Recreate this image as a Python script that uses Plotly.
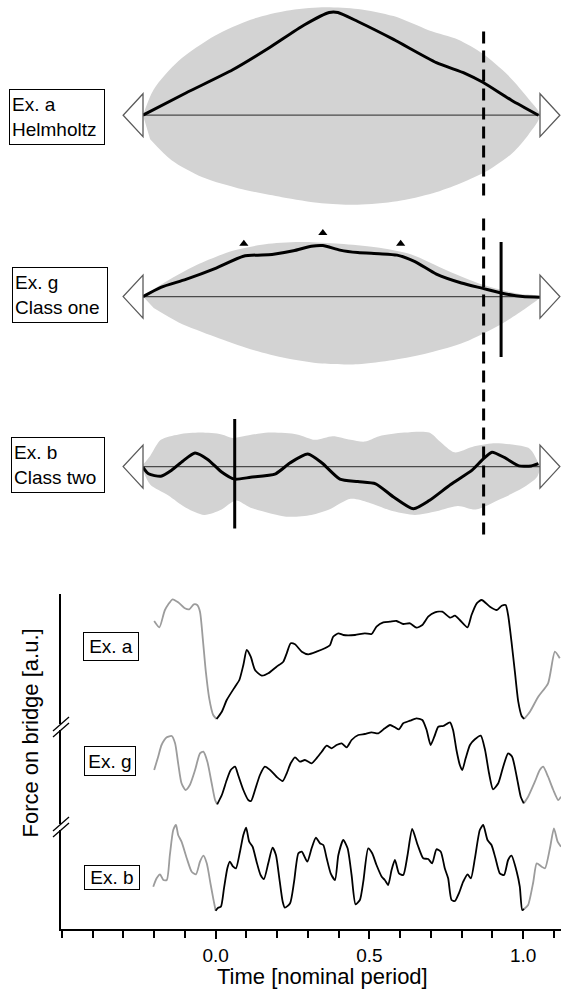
import plotly.graph_objects as go

W, H = 561, 990


def PX(x):
    return x / W


def PY(y):
    return 1 - y / H


FONT = "Liberation Sans, Arial, sans-serif"
ENV_GRAY = "#d3d3d3"
TRACE_GRAY = "#9c9c9c"

# ---------------- top panels (time in nominal period, amplitude in a.u.) ----------------
# Panel 1: Ex. a Helmholtz
p1_curve_t = [0, 0.108, 0.226, 0.316, 0.406, 0.469, 0.491, 0.541, 0.631, 0.739, 0.811, 0.856, 0.928, 0.996]
p1_curve_v = [0, 22.2, 45.4, 66.9, 90.2, 102.7, 102.7, 93.7, 75.8, 52.6, 41.9, 32.9, 15, 0]
p1_up_t = [0, 0.027, 0.09, 0.181, 0.271, 0.361, 0.451, 0.541, 0.631, 0.721, 0.793, 0.856, 0.919, 0.974, 1.0]
p1_up_v = [0, 25.8, 54.4, 79.4, 95.5, 104.5, 108, 106.3, 99.1, 84.8, 75.8, 61.5, 40.2, 15, 0]
p1_lo_t = [0.018, 0.072, 0.15, 0.25, 0.35, 0.45, 0.54, 0.64, 0.73, 0.80, 0.87, 0.93, 0.97]
p1_lo_v = [-24, -45, -62, -74, -82, -88, -89.5, -86, -78, -68, -55, -38, -20]

# Panel 2: Ex. g Class one
p2_curve_t = [0, 0.045, 0.108, 0.181, 0.253, 0.325, 0.379, 0.424, 0.453, 0.496, 0.541, 0.595, 0.640,
              0.685, 0.739, 0.802, 0.856, 0.902, 0.956, 1.0]
p2_curve_v = [0, 9.3, 17.2, 27.9, 40.4, 42.2, 45.8, 50.4, 51.1, 46.5, 44, 42.9, 41.5, 35, 22.5, 13.6,
              8.2, 3.6, 0, -0.7]
p2_up_t = [0, 0.045, 0.135, 0.226, 0.316, 0.406, 0.496, 0.586, 0.676, 0.766, 0.856, 0.946, 1.0]
p2_up_v = [0, 11.8, 31.5, 45.8, 52.9, 54.7, 52.9, 49.4, 42.2, 26.1, 11.8, 2.8, 0]
p2_lo_t = [0.027, 0.09, 0.181, 0.271, 0.361, 0.451, 0.541, 0.631, 0.721, 0.811, 0.902, 0.965]
p2_lo_v = [-11.5, -25.8, -40.1, -52.6, -61.6, -66.9, -67.6, -63.4, -56.2, -45.4, -27.6, -11.4]
p2_peaks_t = [0.254, 0.453, 0.649]
p2_peaks_v = [52.9, 63.6, 52.9]

# Panel 3: Ex. b Class two
p3_curve_t = [0.0, 0.014, 0.045, 0.072, 0.100, 0.131, 0.163, 0.198, 0.230, 0.271, 0.334, 0.370, 0.415,
              0.451, 0.496, 0.541, 0.586, 0.631, 0.681, 0.721, 0.775, 0.829, 0.856, 0.879, 0.911,
              0.947, 0.978, 0.996]
p3_curve_v = [-0.7, -7.2, -9.7, -3.6, 5.4, 13.6, 7.2, -5.4, -12.5, -10.7, -7.2, 3.6, 12.5, 3.6, -12.5,
              -15, -17.2, -30.4, -42.2, -34, -17.9, -3.6, 7.2, 14.3, 8.9, 0.7, 0.7, 2.9]
p3_up_t = [0.0, 0.018, 0.045, 0.090, 0.145, 0.198, 0.226, 0.253, 0.316, 0.388, 0.433, 0.478, 0.523,
           0.559, 0.595, 0.658, 0.721, 0.748, 0.784, 0.829, 0.883, 0.938, 0.974, 0.996]
p3_up_v = [2, 10.7, 26.8, 32.2, 34, 32.2, 28.6, 30.4, 34, 32.2, 26.8, 30.4, 26.8, 25, 30.4, 34, 34,
           25, 14.3, 19.7, 23.3, 21.5, 17.9, 3.6]
p3_lo_t = [0.0, 0.018, 0.063, 0.108, 0.154, 0.198, 0.234, 0.271, 0.361, 0.424, 0.469, 0.523, 0.568,
           0.631, 0.685, 0.739, 0.793, 0.838, 0.902, 0.956, 0.992, 1.0]
p3_lo_v = [-3.6, -17.9, -28.6, -41.1, -48.3, -42.9, -34, -41.1, -50.1, -48.3, -42.9, -32.2, -35.8,
           -44.7, -48.3, -44.7, -39.4, -42.9, -32.2, -21.5, -10.7, -1]

onset_t = 0.858          # dashed line (all three top panels)
p2_marker_t = 0.902      # solid line, panel 2
p3_marker_t = 0.231      # solid line, panel 3

# ---------------- bottom panel: force on bridge ----------------
a_pre_t = [-0.200, -0.183, -0.165, -0.140, -0.122, -0.100, -0.086, -0.071, -0.060, -0.051, -0.042,
           -0.032, -0.021, -0.008, 0.003]
a_pre_v = [308, 301.7, 319, 329.7, 326.7, 320.7, 319.7, 324.7, 324, 317.3, 290.7, 257.3, 230.7, 214, 210]
a_t = [0.003, 0.020, 0.036, 0.063, 0.077, 0.090, 0.101, 0.114, 0.128, 0.150, 0.171, 0.198, 0.220, 0.231,
       0.244, 0.258, 0.280, 0.301, 0.328, 0.355, 0.372, 0.382, 0.399, 0.415, 0.453, 0.485, 0.507, 0.523,
       0.545, 0.567, 0.588, 0.610, 0.632, 0.653, 0.672, 0.691, 0.713, 0.737, 0.762, 0.778, 0.794, 0.819,
       0.832, 0.849, 0.865, 0.892, 0.914, 0.930, 0.943, 0.951, 0.962, 0.973, 0.984, 0.995, 1.003]
a_v = [210, 217.3, 229, 242.3, 249, 264, 279, 272.3, 259, 253.3, 255.7, 262.3, 267.3, 275.7, 285.7, 284.7,
       277.3, 274.7, 277.3, 280.7, 284, 292.3, 295.7, 294, 294, 295.7, 295, 302.3, 306.7, 307.3, 308,
       305, 305.7, 301.3, 304, 312.3, 316.7, 317.3, 311.3, 313.3, 309, 301.7, 314, 325.7, 329, 322.3, 319,
       323.3, 324, 314, 287.3, 257.3, 227.3, 213, 210]
a_post_t = [1.003, 1.022, 1.049, 1.081, 1.103, 1.119]
a_post_v = [210, 217.3, 232.3, 245.7, 277.3, 270.7]

g_pre_t = [-0.200, -0.187, -0.176, -0.159, -0.143, -0.132, -0.122, -0.111, -0.098, -0.084, -0.067,
           -0.051, -0.040, -0.027, -0.013, -0.002, 0.005]
g_pre_v = [159, 172.3, 184, 191.7, 193, 185.7, 165.7, 145.7, 139, 144, 159, 175.7, 177.3, 167.3, 145.7,
           129, 124.7]
g_t = [0.005, 0.020, 0.036, 0.049, 0.063, 0.073, 0.090, 0.106, 0.115, 0.128, 0.144, 0.160, 0.177, 0.198,
       0.218, 0.231, 0.244, 0.258, 0.274, 0.290, 0.312, 0.328, 0.345, 0.361, 0.377, 0.393, 0.410, 0.426,
       0.442, 0.464, 0.485, 0.507, 0.529, 0.550, 0.567, 0.583, 0.596, 0.610, 0.632, 0.653, 0.672, 0.686,
       0.699, 0.711, 0.724, 0.740, 0.762, 0.772, 0.783, 0.794, 0.802, 0.813, 0.827, 0.843, 0.862, 0.876,
       0.889, 0.902, 0.919, 0.935, 0.951, 0.964, 0.979, 0.992, 1.002]
g_v = [124.7, 134, 149, 159, 162.3, 154, 139, 129, 128, 139, 154, 162.3, 159, 152.3, 148, 155.7, 165.7,
       171.7, 167.3, 169, 165.7, 170.7, 177.3, 183.3, 180.7, 184, 185.7, 181.7, 189, 194, 195, 196.7,
       195.7, 200.7, 204, 201.7, 199.7, 205.7, 208.3, 210.7, 209, 199, 184, 192.3, 202.3, 203, 206.7, 199,
       179, 164, 159, 170.7, 184, 189.7, 193.3, 179, 155.7, 139.7, 145.7, 162.3, 175.7, 172.3, 152.3,
       132.3, 125.7]
g_post_t = [1.002, 1.016, 1.038, 1.054, 1.065, 1.081, 1.098, 1.114, 1.123]
g_post_v = [125.7, 132.3, 147.3, 159, 162.3, 152.3, 139, 129, 132.3]

b_pre_t = [-0.203, -0.192, -0.181, -0.170, -0.159, -0.149, -0.138, -0.129, -0.122, -0.111, -0.094,
           -0.078, -0.064, -0.051, -0.040, -0.029, -0.016, -0.008, 0.000]
b_pre_v = [42.3, 50.7, 54.7, 49, 49, 74, 99, 104, 94, 87.3, 70.7, 57.3, 54.7, 67.3, 73.3, 65.7, 44,
           30.7, 18.3]
b_t = [0.000, 0.008, 0.017, 0.027, 0.038, 0.046, 0.057, 0.066, 0.079, 0.090, 0.099, 0.109, 0.120, 0.133,
       0.146, 0.157, 0.171, 0.185, 0.196, 0.207, 0.218, 0.225, 0.242, 0.255, 0.269, 0.280, 0.298, 0.312,
       0.326, 0.339, 0.350, 0.361, 0.374, 0.388, 0.399, 0.415, 0.429, 0.442, 0.455, 0.469, 0.480, 0.496,
       0.509, 0.523, 0.540, 0.550, 0.561, 0.572, 0.583, 0.596, 0.610, 0.624, 0.639, 0.657, 0.675, 0.691,
       0.704, 0.718, 0.732, 0.745, 0.756, 0.767, 0.778, 0.791, 0.805, 0.819, 0.830, 0.843, 0.859, 0.870,
       0.884, 0.897, 0.910, 0.924, 0.938, 0.951, 0.962, 0.979, 0.989, 0.997, 1.003]
b_v = [18.3, 21.3, 22.3, 40.7, 60.7, 67.3, 62.3, 60.7, 77.3, 94, 101.3, 87.3, 82.3, 67.3, 54, 50, 65.7,
       81.3, 74, 50.7, 27.3, 21.3, 25.7, 47.3, 75.7, 77.3, 67.3, 80.7, 91.3, 85.7, 84, 70.7, 55.7, 49, 74,
       89, 80.7, 54, 24.7, 29, 47.3, 80.7, 75.7, 64, 52.3, 49, 44, 59, 69, 55.7, 54, 74, 100, 84, 70.7,
       70, 65.7, 79.7, 77.3, 60.7, 50.7, 29, 28, 35.7, 47.3, 54.7, 50.7, 70.7, 99, 104, 89, 84, 70.7,
       55.7, 54, 69, 73.3, 57.3, 42.3, 19, 20]
b_post_t = [1.003, 1.016, 1.033, 1.044, 1.060, 1.071, 1.087, 1.100, 1.112, 1.123]
b_post_v = [20, 24, 47.3, 65.7, 62.3, 60.7, 80.7, 100.7, 87.3, 82.3]

x_tick_vals = [0.0, 0.5, 1.0]
x_tick_text = ["0.0", "0.5", "1.0"]
y_breaks = [202, 102]

fig = go.Figure()

# ---- top panels ----
top = [
    ("y2", p1_curve_t, p1_curve_v, p1_up_t, p1_up_v, p1_lo_t, p1_lo_v),
    ("y3", p2_curve_t, p2_curve_v, p2_up_t, p2_up_v, p2_lo_t, p2_lo_v),
    ("y4", p3_curve_t, p3_curve_v, p3_up_t, p3_up_v, p3_lo_t, p3_lo_v),
]
for ya, ct, cv, ut, uv, lt, lv in top:
    ex = ut + lt[::-1]
    ey = uv + lv[::-1]
    fig.add_trace(go.Scatter(x=ex, y=ey, xaxis="x2", yaxis=ya, mode="lines", fill="toself",
                             fillcolor=ENV_GRAY, line=dict(width=0, color=ENV_GRAY, shape="spline",
                                                           smoothing=0.8),
                             hoverinfo="skip", showlegend=False))
    fig.add_trace(go.Scatter(x=[0, 1], y=[0, 0], xaxis="x2", yaxis=ya, mode="lines",
                             line=dict(color="#4a4a4a", width=1.3), showlegend=False))
    fig.add_trace(go.Scatter(x=ct, y=cv, xaxis="x2", yaxis=ya, mode="lines",
                             line=dict(color="black", width=3, shape="spline", smoothing=0.6),
                             showlegend=False))
    # open arrow heads at both ends
    fig.add_shape(type="path", xref="x2", yref=ya, path="M 0,21.5 L -0.05,0 L 0,-21.5 Z",
                  fillcolor="white", line=dict(color="#5a5a5a", width=1.3))
    fig.add_shape(type="path", xref="x2", yref=ya, path="M 1,21.5 L 1.05,0 L 1,-21.5 Z",
                  fillcolor="white", line=dict(color="#5a5a5a", width=1.3))

fig.add_trace(go.Scatter(x=p2_peaks_t, y=p2_peaks_v, xaxis="x2", yaxis="y3", mode="markers",
                         marker=dict(symbol="triangle-up", size=8, color="black"), showlegend=False))

# vertical markers
fig.add_shape(type="line", xref="x2", yref="paper", x0=onset_t, x1=onset_t, y0=PY(31.5), y1=PY(196),
              line=dict(color="black", width=3, dash="12px,7px"))
fig.add_shape(type="line", xref="x2", yref="paper", x0=onset_t, x1=onset_t, y0=PY(218.6), y1=PY(537),
              line=dict(color="black", width=3, dash="12px,7px"))
fig.add_shape(type="line", xref="x2", yref="y3", x0=p2_marker_t, x1=p2_marker_t, y0=54.6, y1=-60.4,
              line=dict(color="black", width=3))
fig.add_shape(type="line", xref="x2", yref="y4", x0=p3_marker_t, x1=p3_marker_t, y0=47.6, y1=-61.9,
              line=dict(color="black", width=3))

# ---- bottom panel ----
for pre_t, pre_v, t, v, post_t, post_v in [
    (a_pre_t, a_pre_v, a_t, a_v, a_post_t, a_post_v),
    (g_pre_t, g_pre_v, g_t, g_v, g_post_t, g_post_v),
    (b_pre_t, b_pre_v, b_t, b_v, b_post_t, b_post_v),
]:
    for xs, ys, col in [(pre_t, pre_v, TRACE_GRAY), (post_t, post_v, TRACE_GRAY), (t, v, "black")]:
        fig.add_trace(go.Scatter(x=xs, y=ys, mode="lines",
                                 line=dict(color=col, width=1.8, shape="spline", smoothing=0.6),
                                 showlegend=False))

# axis breaks
for yb in y_breaks:
    fig.add_shape(type="rect", xref="paper", yref="y", ysizemode="pixel", yanchor=yb,
                  x0=PX(58), x1=PX(64), y0=-3, y1=3, fillcolor="white", line=dict(width=0),
                  layer="above")
    for off in (-3, 3):
        fig.add_shape(type="line", xref="paper", yref="y", ysizemode="pixel", yanchor=yb,
                      x0=PX(53), x1=PX(69), y0=-7 + off, y1=7 + off,
                      line=dict(color="black", width=1.3), layer="above")


# ---- labels ----
def box(text, cx, cy, w, h, align):
    fig.add_annotation(text=text, xref="paper", yref="paper", x=PX(cx), y=PY(cy), showarrow=False,
                       xanchor="center", yanchor="middle", width=w, height=h, align=align,
                       bordercolor="black", borderwidth=1, borderpad=2, bgcolor="white",
                       font=dict(family=FONT, size=19, color="black"))


box("Ex. a<br>Helmholtz", 57.2, 117.2, 90, 50, "left")
box("Ex. g<br>Class one", 59.5, 295.2, 90, 50, "left")
box("Ex. b<br>Class two", 57.6, 464.9, 88, 50, "left")
box("Ex. a", 110.5, 646.5, 50, 23, "center")
box("Ex. g", 110, 760.5, 46, 24, "center")
box("Ex. b", 112, 877, 50, 19, "center")

fig.add_annotation(text="Force on bridge [a.u.]", xref="paper", yref="paper", x=PX(29.5), y=PY(733),
                   showarrow=False, textangle=-90, xanchor="center", yanchor="middle",
                   font=dict(family=FONT, size=22, color="black"))
fig.add_annotation(text="Time [nominal period]", xref="paper", yref="paper", x=PX(322.5), y=PY(976),
                   showarrow=False, xanchor="center", yanchor="middle",
                   font=dict(family=FONT, size=22, color="black"))

fig.update_layout(
    width=W, height=H, margin=dict(l=0, r=0, t=0, b=0), paper_bgcolor="white", plot_bgcolor="white",
    showlegend=False, font=dict(family=FONT, color="black"),
    xaxis=dict(domain=[PX(61), 1], range=[-0.503, 1.123], anchor="y", showline=True, linecolor="black",
               linewidth=1.6, ticks="outside", ticklen=8, tickwidth=1.5, tickcolor="black",
               tickvals=x_tick_vals, ticktext=x_tick_text, tickfont=dict(size=19, family=FONT),
               minor=dict(dtick=0.1, tick0=0, ticks="outside", ticklen=7, tickwidth=1.5,
                          tickcolor="black"),
               showgrid=False, zeroline=False),
    yaxis=dict(domain=[PY(929), PY(594)], range=[0, 335], anchor="x", showline=True, linecolor="black",
               linewidth=1.6, ticks="", showticklabels=False, showgrid=False, zeroline=False),
    xaxis2=dict(domain=[0, 1], range=[-0.3602, 1.0529], anchor="y2", visible=False),
    yaxis2=dict(domain=[PY(210), 1], range=[-94.8, 115.2], anchor="x2", visible=False),
    yaxis3=dict(domain=[PY(375), PY(210)], range=[-78.4, 86.6], anchor="x2", visible=False),
    yaxis4=dict(domain=[PY(560), PY(375)], range=[-93.4, 91.6], anchor="x2", visible=False),
)

fig.write_html("out.html")
